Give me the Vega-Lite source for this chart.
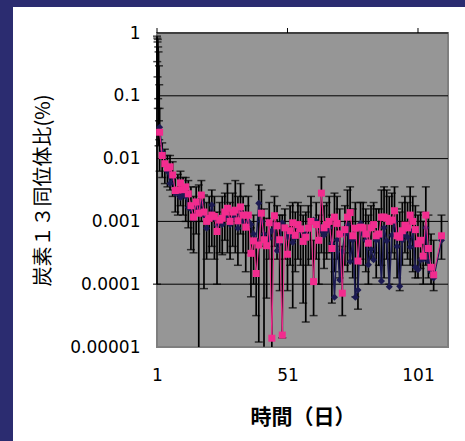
{
  "$schema": "https://vega.github.io/schema/vega-lite/v6.json",
  "width": 452,
  "height": 434,
  "autosize": "none",
  "padding": {"left": 13, "top": 7, "right": 0, "bottom": 0},
  "background": "#2b2c70",
  "config": {"view": {"fill": "white", "stroke": null}},
  "datasets": {
    "pink": [
      {"day":2,"v":0.0263},{"day":3,"v":0.0112},{"day":4,"v":0.0083},{"day":5,"v":0.0071},
      {"day":6,"v":0.0074},{"day":7,"v":0.0055},{"day":8,"v":0.0031},{"day":9,"v":0.00316},{"day":10,"v":0.0041},
      {"day":11,"v":0.0032},{"day":12,"v":0.00355},{"day":13,"v":0.00275},{"day":14,"v":0.00178},{"day":15,"v":0.00117},
      {"day":16,"v":0.00204},{"day":17,"v":0.00135},{"day":18,"v":0.00263},{"day":19,"v":0.00141},{"day":20,"v":0.001},
      {"day":21,"v":0.00112},{"day":22,"v":0.00126},{"day":23,"v":0.0012},{"day":24,"v":0.00069},{"day":25,"v":0.00105},
      {"day":26,"v":0.00112},{"day":27,"v":0.00141},{"day":28,"v":0.00162},{"day":29,"v":0.001},{"day":30,"v":0.00141},
      {"day":31,"v":0.00151},{"day":32,"v":0.00102},{"day":33,"v":0.0017},{"day":34,"v":0.00126},{"day":35,"v":0.00081},
      {"day":36,"v":0.00126},{"day":37,"v":0.00031},{"day":38,"v":0.00049},{"day":39,"v":0.000148},{"day":40,"v":0.00042},
      {"day":41,"v":0.00135},{"day":42,"v":0.00051},{"day":43,"v":0.00041},{"day":44,"v":0.00095},{"day":45,"v":0.0000138},
      {"day":46,"v":0.00123},{"day":47,"v":0.00085},{"day":48,"v":0.00051},{"day":49,"v":0.0000155},{"day":50,"v":0.00079},
      {"day":51,"v":0.0003},{"day":52,"v":0.00071},{"day":53,"v":0.00095},{"day":54,"v":0.0006},{"day":55,"v":0.00089},
      {"day":56,"v":0.00076},{"day":57,"v":0.00048},{"day":58,"v":0.00056},{"day":59,"v":0.00078},{"day":60,"v":0.001},
      {"day":61,"v":0.00011},{"day":62,"v":0.00089},{"day":63,"v":0.0005},{"day":64,"v":0.00282},{"day":65,"v":0.00079},
      {"day":66,"v":0.00089},{"day":67,"v":0.001},{"day":68,"v":0.00037},{"day":69,"v":0.00117},{"day":70,"v":0.00093},
      {"day":71,"v":0.00063},{"day":72,"v":0.000072},{"day":73,"v":0.00074},{"day":74,"v":0.00117},{"day":75,"v":0.00138},
      {"day":76,"v":0.00059},{"day":77,"v":0.00078},{"day":78,"v":0.000234},{"day":79,"v":0.00081},{"day":80,"v":0.00079},
      {"day":81,"v":0.00063},{"day":82,"v":0.00045},{"day":83,"v":0.00079},{"day":84,"v":0.00089},{"day":85,"v":0.00059},
      {"day":86,"v":0.00063},{"day":87,"v":0.00117},{"day":88,"v":0.00117},{"day":89,"v":0.00112},{"day":90,"v":0.001},
      {"day":91,"v":0.00105},{"day":92,"v":0.00148},{"day":93,"v":0.00059},{"day":94,"v":0.00056},{"day":95,"v":0.00071},
      {"day":96,"v":0.00087},{"day":97,"v":0.00079},{"day":98,"v":0.00126},{"day":99,"v":0.001},{"day":100,"v":0.00074},
      {"day":101,"v":0.00044},{"day":102,"v":0.0005},{"day":103,"v":0.00028},{"day":104,"v":0.00126},{"day":105,"v":0.00037},
      {"day":106,"v":0.000186},{"day":107,"v":0.000141},{"day":110,"v":0.00059}
    ],
    "navy": [
      {"day":2,"v":0.0316},{"day":3,"v":0.0126},{"day":4,"v":0.0079},{"day":5,"v":0.0063},
      {"day":6,"v":0.004},{"day":7,"v":0.005},{"day":8,"v":0.0028},{"day":9,"v":0.0028},{"day":10,"v":0.0024},
      {"day":11,"v":0.0028},{"day":12,"v":0.0025},{"day":13,"v":0.00166},{"day":14,"v":0.00158},{"day":15,"v":0.00112},
      {"day":16,"v":0.00178},{"day":17,"v":0.00151},{"day":18,"v":0.002},{"day":19,"v":0.00126},{"day":20,"v":0.00078},
      {"day":21,"v":0.00112},{"day":22,"v":0.00182},{"day":23,"v":0.00112},{"day":24,"v":0.00087},{"day":25,"v":0.001},
      {"day":26,"v":0.00089},{"day":27,"v":0.00126},{"day":28,"v":0.00112},{"day":29,"v":0.00089},{"day":30,"v":0.00112},
      {"day":31,"v":0.00126},{"day":32,"v":0.00078},{"day":33,"v":0.00141},{"day":34,"v":0.001},{"day":35,"v":0.00079},
      {"day":36,"v":0.001},{"day":37,"v":0.00089},{"day":38,"v":0.00063},{"day":39,"v":0.0005},{"day":40,"v":0.00195},
      {"day":41,"v":0.001},{"day":42,"v":0.00063},{"day":43,"v":0.0005},{"day":44,"v":0.00054},{"day":45,"v":0.00071},
      {"day":46,"v":0.00089},{"day":47,"v":0.00034},{"day":48,"v":0.00045},{"day":49,"v":0.00095},{"day":50,"v":0.00079},
      {"day":51,"v":0.00056},{"day":52,"v":0.00063},{"day":53,"v":0.00046},{"day":54,"v":0.00056},{"day":55,"v":0.00079},
      {"day":56,"v":0.00072},{"day":57,"v":0.0005},{"day":58,"v":0.00063},{"day":59,"v":0.00079},{"day":60,"v":0.001},
      {"day":61,"v":0.00105},{"day":62,"v":0.001},{"day":63,"v":0.00087},{"day":64,"v":0.00071},{"day":65,"v":0.0006},
      {"day":66,"v":0.00071},{"day":67,"v":0.00079},{"day":68,"v":0.00045},{"day":69,"v":0.000062},{"day":70,"v":0.00051},
      {"day":71,"v":0.000117},{"day":72,"v":0.00033},{"day":73,"v":0.00063},{"day":74,"v":0.00089},{"day":75,"v":0.00023},
      {"day":76,"v":0.0005},{"day":77,"v":0.000062},{"day":78,"v":0.000081},{"day":79,"v":0.00093},{"day":80,"v":0.00063},
      {"day":81,"v":0.0005},{"day":82,"v":0.000204},{"day":83,"v":0.00036},{"day":84,"v":0.000245},{"day":85,"v":0.0005},
      {"day":86,"v":0.00056},{"day":87,"v":0.000112},{"day":88,"v":0.00079},{"day":89,"v":0.00049},{"day":90,"v":0.000091},
      {"day":91,"v":0.0006},{"day":92,"v":0.001},{"day":93,"v":0.0004},{"day":94,"v":0.000093},{"day":95,"v":0.0005},
      {"day":96,"v":0.00063},{"day":97,"v":0.00056},{"day":98,"v":0.00039},{"day":99,"v":0.00071},{"day":100,"v":0.000186},
      {"day":101,"v":0.00017},{"day":102,"v":0.000245},{"day":103,"v":0.00025},{"day":104,"v":0.00079},{"day":105,"v":0.00023},
      {"day":106,"v":0.000158},{"day":107,"v":0.000126},{"day":110,"v":0.0005}
    ],
    "err": [
      {"day":1,"hi":0.89,"lo":0.0001},{"day":1.1,"hi":0.83,"lo":0.35},{"day":1.2,"hi":0.72,"lo":0.2},
      {"day":1.3,"hi":0.79,"lo":0.063},{"day":1.45,"hi":0.6,"lo":0.09},{"day":1.6,"hi":0.5,"lo":0.016},
      {"day":1.75,"hi":0.3,"lo":0.04},{"day":1.85,"hi":0.15,"lo":0.02},
      {"day":2,"hi":0.063,"lo":0.0063},{"day":3,"hi":0.0178,"lo":0.005},{"day":4,"hi":0.0141,"lo":0.004},
      {"day":5,"hi":0.0112,"lo":0.00355},{"day":6,"hi":0.0112,"lo":0.00316},{"day":7,"hi":0.0089,"lo":0.0025},
      {"day":8,"hi":0.005,"lo":0.00141},{"day":9,"hi":0.0056,"lo":0.00126},{"day":10,"hi":0.0063,"lo":0.00178},
      {"day":11,"hi":0.005,"lo":0.00126},{"day":12,"hi":0.005,"lo":0.001},{"day":13,"hi":0.00447,"lo":0.00079},
      {"day":14,"hi":0.00355,"lo":0.000355},{"day":15,"hi":0.0025,"lo":0.000316},{"day":16,"hi":0.00355,"lo":0.00063},
      {"day":17,"hi":0.0038,"lo":0.00001},{"day":18,"hi":0.00447,"lo":0.001},{"day":19,"hi":0.00263,"lo":0.000085},
      {"day":20,"hi":0.002,"lo":0.00025},{"day":21,"hi":0.0025,"lo":0.000316},{"day":22,"hi":0.00316,"lo":0.0004},
      {"day":23,"hi":0.0025,"lo":0.00025},{"day":24,"hi":0.00141,"lo":0.0001},{"day":25,"hi":0.002,"lo":0.000316},
      {"day":26,"hi":0.0025,"lo":0.000295},{"day":27,"hi":0.00282,"lo":0.0005},{"day":28,"hi":0.004,"lo":0.000316},
      {"day":29,"hi":0.002,"lo":0.00025},{"day":30,"hi":0.00282,"lo":0.0004},{"day":31,"hi":0.00447,"lo":0.000316},
      {"day":32,"hi":0.0025,"lo":0.0002},{"day":33,"hi":0.004,"lo":0.00063},{"day":34,"hi":0.0025,"lo":0.000316},
      {"day":35,"hi":0.00178,"lo":0.000158},{"day":36,"hi":0.0025,"lo":0.000316},{"day":37,"hi":0.00079,"lo":0.000063},
      {"day":38,"hi":0.00126,"lo":0.0001},{"day":39,"hi":0.0005,"lo":0.0000316},{"day":40,"hi":0.0038,"lo":0.000012},
      {"day":41,"hi":0.00316,"lo":0.0004},{"day":42,"hi":0.00158,"lo":0.0000101},{"day":43,"hi":0.00112,"lo":0.00006},
      {"day":44,"hi":0.002,"lo":0.00025},{"day":45,"hi":0.001,"lo":0.00001},{"day":46,"hi":0.0025,"lo":0.0004},
      {"day":47,"hi":0.00178,"lo":0.00025},{"day":48,"hi":0.00126,"lo":0.000079},{"day":49,"hi":0.00126,"lo":0.000014},
      {"day":50,"hi":0.00158,"lo":0.00025},{"day":51,"hi":0.00079,"lo":0.000079},{"day":52,"hi":0.00178,"lo":0.0002},
      {"day":53,"hi":0.002,"lo":0.000042},{"day":54,"hi":0.00141,"lo":0.000158},{"day":55,"hi":0.002,"lo":0.00025},
      {"day":56,"hi":0.00178,"lo":0.0002},{"day":57,"hi":0.00126,"lo":0.00005},{"day":58,"hi":0.00141,"lo":0.000025},
      {"day":59,"hi":0.00178,"lo":0.0002},{"day":60,"hi":0.0025,"lo":0.00025},{"day":61,"hi":0.0005,"lo":0.0000316},
      {"day":62,"hi":0.002,"lo":0.00025},{"day":63,"hi":0.00126,"lo":0.0001},{"day":64,"hi":0.0051,"lo":0.000316},
      {"day":65,"hi":0.00178,"lo":0.000178},{"day":66,"hi":0.002,"lo":0.00025},{"day":67,"hi":0.0025,"lo":0.000316},
      {"day":68,"hi":0.00126,"lo":0.00005},{"day":69,"hi":0.00282,"lo":0.000158},{"day":70,"hi":0.0025,"lo":0.00025},
      {"day":71,"hi":0.00158,"lo":0.000126},{"day":72,"hi":0.0004,"lo":0.0000316},{"day":73,"hi":0.00178,"lo":0.0002},
      {"day":74,"hi":0.00316,"lo":0.000158},{"day":75,"hi":0.00355,"lo":0.000316},{"day":76,"hi":0.00158,"lo":0.000126},
      {"day":77,"hi":0.002,"lo":0.000063},{"day":78,"hi":0.00079,"lo":0.00004},{"day":79,"hi":0.002,"lo":0.00025},
      {"day":80,"hi":0.002,"lo":0.0002},{"day":81,"hi":0.00158,"lo":0.000158},{"day":82,"hi":0.00126,"lo":0.0001},
      {"day":83,"hi":0.00178,"lo":0.00025},{"day":84,"hi":0.002,"lo":0.000316},{"day":85,"hi":0.00158,"lo":0.000126},
      {"day":86,"hi":0.00158,"lo":0.0002},{"day":87,"hi":0.00316,"lo":0.0002},{"day":88,"hi":0.00355,"lo":0.000126},
      {"day":89,"hi":0.00316,"lo":0.00025},{"day":90,"hi":0.0025,"lo":0.0001},{"day":91,"hi":0.00282,"lo":0.000316},
      {"day":92,"hi":0.00355,"lo":0.00025},{"day":93,"hi":0.00158,"lo":0.000126},{"day":94,"hi":0.00141,"lo":0.000079},
      {"day":95,"hi":0.002,"lo":0.0002},{"day":96,"hi":0.0025,"lo":0.000316},{"day":97,"hi":0.002,"lo":0.00025},
      {"day":98,"hi":0.00355,"lo":0.0002},{"day":99,"hi":0.0025,"lo":0.000158},{"day":100,"hi":0.00178,"lo":0.000126},
      {"day":101,"hi":0.00126,"lo":0.000126},{"day":102,"hi":0.00141,"lo":0.000178},{"day":103,"hi":0.001,"lo":0.0001},
      {"day":104,"hi":0.00355,"lo":0.0002},{"day":105,"hi":0.00126,"lo":0.000126},{"day":106,"hi":0.00063,"lo":0.0001},
      {"day":107,"hi":0.0005,"lo":0.000079},{"day":110,"hi":0.00126,"lo":0.00025}
    ],
    "grid": [{"g": 1}, {"g": 0.1}, {"g": 0.01}, {"g": 0.001}, {"g": 0.0001}],
    "topticks": [{"t": 1}, {"t": 51}, {"t": 101}]
  },
  "layer": [
    {
      "data": {"values": [{}]},
      "mark": {"type": "rect", "fill": "#969696", "stroke": "#7f7f7f", "strokeWidth": 2},
      "encoding": {
        "x": {"datum": 1, "type": "quantitative",
              "scale": {"type": "linear", "domain": [1, 112.5], "range": [144, 435], "nice": false, "zero": false}},
        "x2": {"datum": 112.5},
        "y": {"datum": 0.00001, "type": "quantitative",
              "scale": {"type": "log", "domain": [0.00001, 1], "range": [340, 26], "nice": false}},
        "y2": {"datum": 1}
      }
    },
    {
      "data": {"name": "grid"},
      "mark": {"type": "rule", "color": "black", "strokeWidth": 1},
      "encoding": {
        "x": {"datum": 1, "type": "quantitative"},
        "x2": {"datum": 112.5},
        "y": {"field": "g", "type": "quantitative"}
      }
    },
    {
      "data": {"name": "topticks"},
      "mark": {"type": "rule", "color": "black", "strokeWidth": 1},
      "encoding": {
        "x": {"field": "t", "type": "quantitative"},
        "y": {"datum": 1, "type": "quantitative"},
        "y2": {"datum": 1.2}
      }
    },
    {
      "data": {"name": "err"},
      "mark": {"type": "rule", "color": "black", "strokeWidth": 1.7},
      "encoding": {
        "x": {"field": "day", "type": "quantitative"},
        "y": {"field": "hi", "type": "quantitative"},
        "y2": {"field": "lo"}
      }
    },
    {
      "data": {"name": "err"},
      "mark": {"type": "tick", "orient": "horizontal", "color": "black", "size": 8, "thickness": 1.5},
      "encoding": {
        "x": {"field": "day", "type": "quantitative"},
        "y": {"field": "hi", "type": "quantitative"}
      }
    },
    {
      "data": {"name": "err"},
      "transform": [{"filter": "datum.lo > 0.0000101"}],
      "mark": {"type": "tick", "orient": "horizontal", "color": "black", "size": 8, "thickness": 1.5},
      "encoding": {
        "x": {"field": "day", "type": "quantitative"},
        "y": {"field": "lo", "type": "quantitative"}
      }
    },
    {
      "data": {"name": "navy"},
      "mark": {"type": "line", "color": "#1c1a52", "strokeWidth": 1.5},
      "encoding": {
        "x": {"field": "day", "type": "quantitative"},
        "y": {"field": "v", "type": "quantitative"}
      }
    },
    {
      "data": {"name": "navy"},
      "mark": {"type": "point", "shape": "diamond", "filled": true, "size": 50, "color": "#1c1a52", "opacity": 1},
      "encoding": {
        "x": {"field": "day", "type": "quantitative"},
        "y": {"field": "v", "type": "quantitative"}
      }
    },
    {
      "data": {"name": "pink"},
      "mark": {"type": "line", "color": "#f22c8e", "strokeWidth": 1},
      "encoding": {
        "x": {"field": "day", "type": "quantitative"},
        "y": {"field": "v", "type": "quantitative"}
      }
    },
    {
      "data": {"name": "pink"},
      "mark": {"type": "point", "shape": "square", "filled": true, "size": 49, "color": "#f22c8e", "opacity": 1},
      "encoding": {
        "x": {"field": "day", "type": "quantitative",
              "axis": {"orient": "bottom", "offset": -94, "values": [1, 51, 101], "domain": false, "ticks": false,
                       "grid": false, "labelPadding": 20, "labelFlush": false,
                       "labelFont": "DejaVu Sans", "labelFontSize": 17, "labelColor": "black",
                       "title": "時間（日）", "titleFont": "Noto Sans CJK JP", "titleFontSize": 21,
                       "titleFontWeight": "bold", "titleColor": "black", "titlePadding": 23}},
        "y": {"field": "v", "type": "quantitative",
              "axis": {"orient": "left", "offset": -144, "values": [0.00001, 0.0001, 0.001, 0.01, 0.1, 1],
                       "format": ".5~f", "domain": false, "ticks": false, "grid": false,
                       "labelPadding": 17, "labelFlush": false, "labelFont": "DejaVu Sans", "labelFontSize": 17,
                       "labelColor": "black", "title": "炭素１３同位体比(%)", "titleFont": "Noto Sans CJK JP",
                       "titleFontSize": 20, "titleFontWeight": "normal", "titleColor": "black", "titlePadding": 16}}
      }
    }
  ]
}
